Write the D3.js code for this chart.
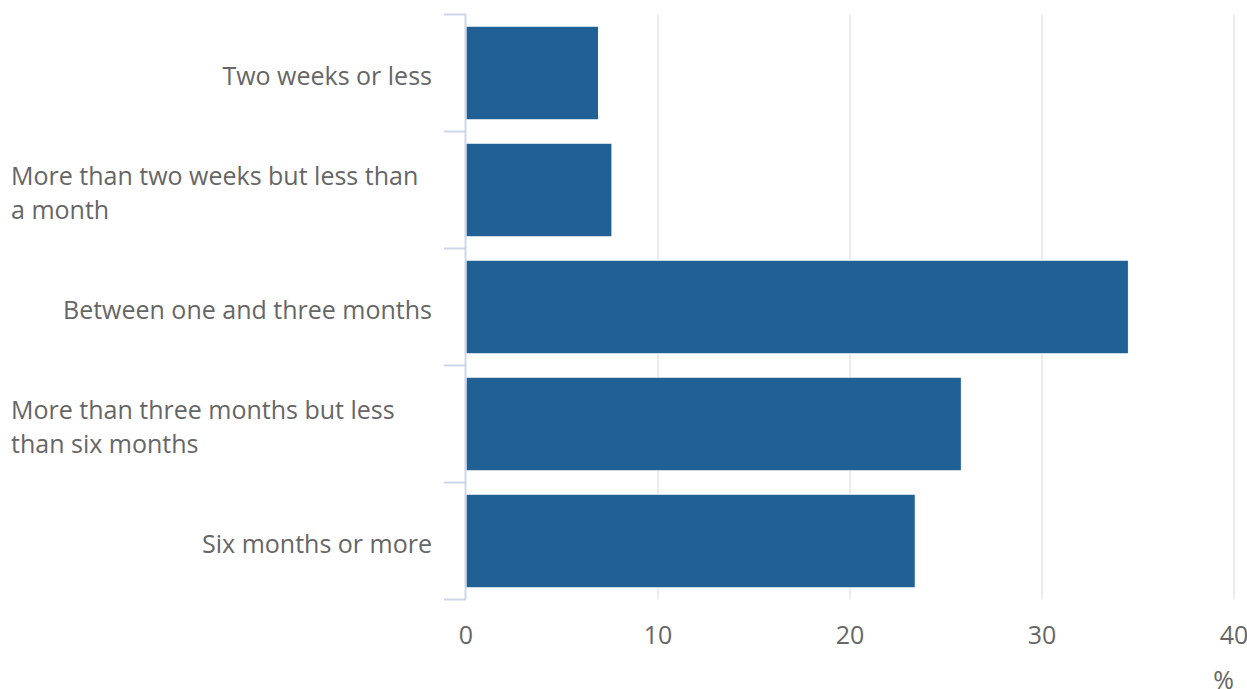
<!DOCTYPE html>
<html>
<head>
<meta charset="utf-8">
<script src="https://cdn.jsdelivr.net/npm/d3@7"></script>
<style>
  body { margin: 0; background: #fff; }
  svg text { font-family: "Open Sans", sans-serif; fill: #666; }
</style>
</head>
<body>
<svg id="chart" width="1247" height="689"></svg>
<script>
// categories, split where the original wraps them
const categories = [
  ["Two weeks or less"],
  ["More than two weeks but less than", "a month"],
  ["Between one and three months"],
  ["More than three months but less", "than six months"],
  ["Six months or more"]
];
const values = [6.9, 7.6, 34.5, 25.8, 23.4];
const xTicks = [0, 10, 20, 30, 40];
const unitLabel = "%";

const svg = d3.select("#chart");
const plot = { left: 466, right: 1234, top: 14.5, bottom: 599.5 };

const x = d3.scaleLinear().domain([0, 40]).range([plot.left, plot.right]);
const y = d3.scaleBand()
  .domain(d3.range(categories.length))
  .range([plot.top, plot.bottom])
  .paddingInner(0.2)
  .paddingOuter(0.1);

// vertical grid lines
svg.append("g")
  .selectAll("line")
  .data(xTicks.filter(d => d > 0))
  .join("line")
  .attr("x1", d => Math.round(x(d)))
  .attr("x2", d => Math.round(x(d)))
  .attr("y1", plot.top)
  .attr("y2", plot.bottom)
  .attr("stroke", "#e6e6e6")
  .attr("stroke-width", 1.5);

// bars
svg.append("g")
  .selectAll("rect")
  .data(values)
  .join("rect")
  .attr("x", x(0))
  .attr("y", (d, i) => y(i))
  .attr("width", d => x(d) - x(0))
  .attr("height", y.bandwidth())
  .attr("fill", "#206095")
  .attr("stroke", "#fff")
  .attr("stroke-width", 1);

// category axis line + boundary ticks
const step = y.step();
svg.append("line")
  .attr("x1", plot.left - 0.5).attr("x2", plot.left - 0.5)
  .attr("y1", plot.top).attr("y2", plot.bottom)
  .attr("stroke", "#ccd6eb").attr("stroke-width", 2);

svg.append("g")
  .selectAll("line")
  .data(d3.range(categories.length + 1))
  .join("line")
  .attr("x1", plot.left - 22)
  .attr("x2", plot.left)
  .attr("y1", i => plot.top + i * step)
  .attr("y2", i => plot.top + i * step)
  .attr("stroke", "#ccd6eb")
  .attr("stroke-width", 2);

// category labels
const lineH = 34;
const labels = svg.append("g")
  .selectAll("text")
  .data(categories)
  .join("text")
  .style("font-size", "25px")
  .attr("text-anchor", d => d.length > 1 ? "start" : "end")
  .attr("transform", (d, i) => {
    const cy = y(i) + y.bandwidth() / 2 + 3;
    return `translate(0,${cy - (d.length - 1) * lineH / 2})`;
  });

labels.selectAll("tspan")
  .data(d => d.map(t => ({ t, multi: d.length > 1 })))
  .join("tspan")
  .attr("x", d => d.multi ? 11 : 432)
  .attr("y", (d, i) => i * lineH)
  .attr("dy", "0.35em")
  .text(d => d.t);

// value axis labels
svg.append("g")
  .selectAll("text")
  .data(xTicks)
  .join("text")
  .attr("x", d => x(d))
  .attr("y", 644)
  .attr("text-anchor", "middle")
  .style("font-size", "25px")
  .text(d => d);

svg.append("text")
  .attr("x", plot.right)
  .attr("y", 689)
  .attr("text-anchor", "end")
  .style("font-size", "25px")
  .text(unitLabel);
</script>
</body>
</html>
